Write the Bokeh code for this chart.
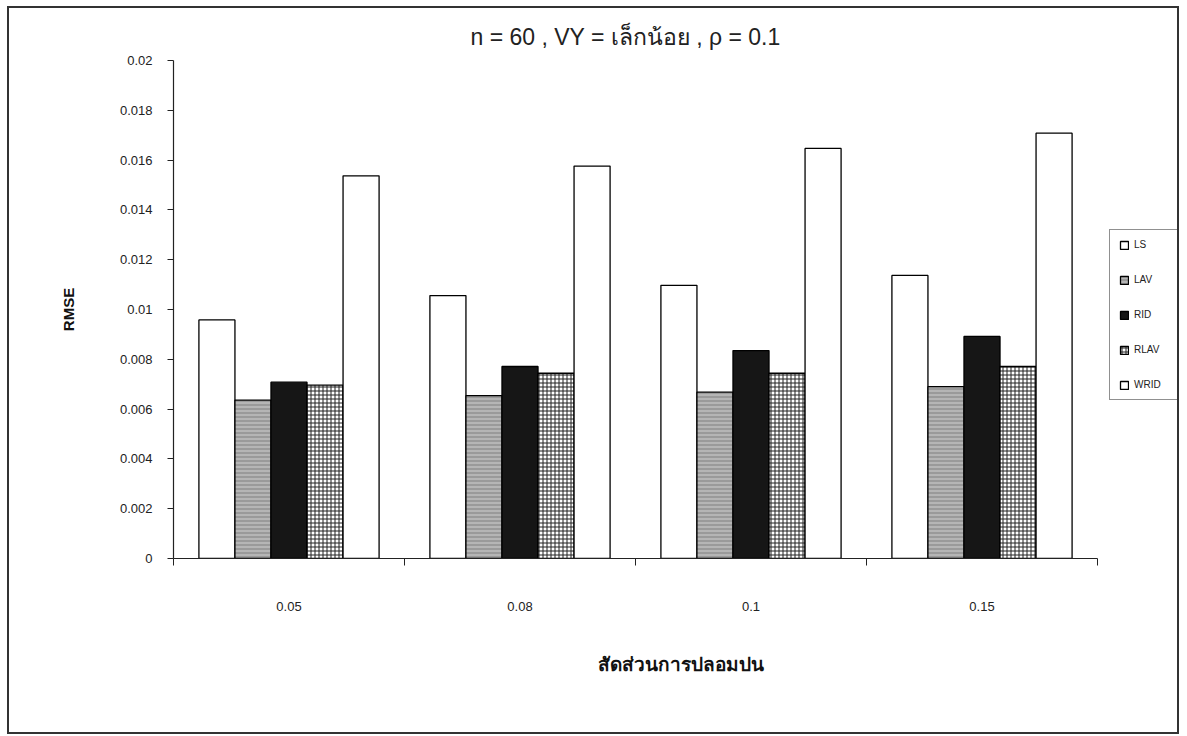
from bokeh.plotting import figure
from bokeh.models import Range1d, FixedTicker, Legend, LegendItem, InlineStyleSheet, Title
from bokeh.embed import file_html
from bokeh.resources import INLINE

categories = ["0.05", "0.08", "0.1", "0.15"]
series = ["LS", "LAV", "RID", "RLAV", "WRID"]
LS = [0.00958, 0.01056, 0.01097, 0.01137]
LAV = [0.00636, 0.00654, 0.00668, 0.00690]
RID = [0.00708, 0.00771, 0.00835, 0.00892]
RLAV = [0.00696, 0.00744, 0.00744, 0.00771]
WRID = [0.01537, 0.01576, 0.01647, 0.01708]
y_ticks = [0.0, 0.002, 0.004, 0.006, 0.008, 0.01, 0.012, 0.014, 0.016, 0.018, 0.02]
y_tick_labels = ["0", "0.002", "0.004", "0.006", "0.008", "0.01", "0.012", "0.014", "0.016", "0.018", "0.02"]
title_text = "n = 60 , VY = เล็กน้อย , ρ = 0.1"
x_label = "สัดส่วนการปลอมปน"
y_label = "RMSE"

FONT = "Liberation Sans, Arial, sans-serif"

n = len(categories)
x_end = n * 1014 / 924  # frame extends past the axis end to hold the legend

p = figure(width=1187, height=736, output_backend="svg", toolbar_location=None,
           x_range=Range1d(0, x_end), y_range=Range1d(0, 0.02),
           min_border_left=173, min_border_right=0, min_border_top=60, min_border_bottom=178)
p.stylesheets = [InlineStyleSheet(css="""
:host { position: relative; }
:host::after { content: ""; position: absolute; left: 7px; top: 6px; width: 1172px; height: 728px;
  border: 2px solid #333; box-sizing: border-box; pointer-events: none; }
""")]
p.outline_line_color = None
p.xgrid.visible = False
p.ygrid.visible = False
p.background_fill_color = "white"
p.border_fill_color = "white"

values = [LS, LAV, RID, RLAV, WRID]
styles = [
    dict(fill_color="white"),
    dict(fill_color="#9a9a9a", hatch_pattern="horizontal_line", hatch_color="#d0d0d0", hatch_scale=4, hatch_weight=1),
    dict(fill_color="#161616"),
    dict(fill_color="white", hatch_pattern="cross", hatch_color="#222222", hatch_scale=4, hatch_weight=1),
    dict(fill_color="white"),
]
bw = 0.156
centers = [i + 0.5 for i in range(n)]
items = []
for k, (name, vals, st) in enumerate(zip(series, values, styles)):
    xs = [c + (k - 2) * bw for c in centers]
    r = p.vbar(x=xs, top=vals, width=bw, bottom=0, line_color="black", line_width=1.3, **st)
    items.append(LegendItem(label=name, renderers=[r]))

legend = Legend(items=items, location=(936, 158), margin=0,
                border_line_color="#222", border_line_width=1.2,
                label_text_font=FONT, label_text_font_size="10px", label_text_color="#222",
                glyph_width=10, glyph_height=10, label_height=10, label_standoff=5,
                label_width=34, spacing=24, padding=9, background_fill_alpha=1)
p.add_layout(legend, "center")

# axes
p.xaxis.ticker = FixedTicker(ticks=centers, minor_ticks=list(range(n + 1)))
p.xaxis.major_label_overrides = {c: lab for c, lab in zip(centers, categories)}
p.xaxis.bounds = (0, n)
p.xaxis.major_tick_out = 0
p.xaxis.major_tick_in = 0
p.xaxis.minor_tick_out = 7
p.xaxis.minor_tick_in = 0
p.xaxis.major_label_standoff = 36
p.xaxis.axis_label = x_label
p.xaxis.axis_label_standoff = 40

p.yaxis.ticker = FixedTicker(ticks=y_ticks, minor_ticks=[])
p.yaxis.major_label_overrides = {t: lab for t, lab in zip(y_ticks, y_tick_labels)}
p.yaxis.major_tick_out = 6
p.yaxis.major_tick_in = 0
p.yaxis.major_label_standoff = 15
p.yaxis.axis_label = y_label
p.yaxis.axis_label_standoff = 40

for ax in (p.xaxis[0], p.yaxis[0]):
    ax.axis_line_color = "#222"
    ax.axis_line_width = 1.2
    ax.major_tick_line_color = "#222"
    ax.minor_tick_line_color = "#222"
    ax.major_label_text_font = FONT
    ax.major_label_text_font_size = "13px"
    ax.major_label_text_color = "#222"
    ax.axis_label_text_font = FONT
    ax.axis_label_text_font_style = "bold"
    ax.axis_label_text_color = "#111"

p.xaxis.axis_label_text_font_size = "19px"
p.yaxis.axis_label_text_font_size = "15px"

title = Title(text=title_text, align="left", offset=297, standoff=22,
              text_font=FONT, text_font_size="23px", text_font_style="normal", text_color="#222")
p.add_layout(title, "above")

open("out.html", "w").write(file_html(p, INLINE))
